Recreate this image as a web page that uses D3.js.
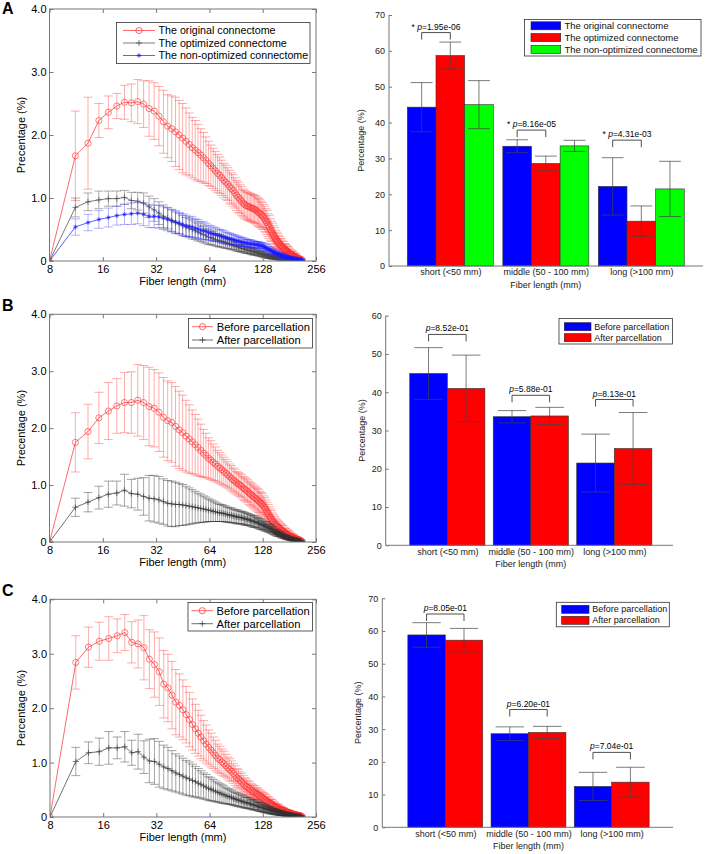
<!DOCTYPE html>
<html>
<head>
<meta charset="utf-8">
<script src="https://cdn.jsdelivr.net/npm/d3@7"></script>
<style>
  body { margin: 0; background: #fff; }
  svg { display: block; }
</style>
</head>
<body>
<svg width="708" height="854"></svg>
<script>
// ---- data: line charts (fiber length bins, mm) ----
const fiberLengths = [8,
  11.2, 13.2, 15.2, 17.2, 19.2, 21.2, 23.2, 25.2, 27.2, 29.2,
  31.2, 33.2, 35.2, 37.2, 39.2, 41.2, 43.2, 45.2, 47.2, 49.2,
  51.2, 53.2, 55.2, 57.2, 59.2, 61.2, 63.2, 65.2, 67.2, 69.2,
  71.2, 73.2, 75.2, 77.2, 79.2, 81.2, 83.2, 85.2, 87.2, 89.2,
  91.2, 93.2, 95.2, 97.2, 99.2, 101.2, 103.2, 105.2, 107.2, 109.2,
  111.2, 113.2, 115.2, 117.2, 119.2, 121.2, 123.2, 125.2, 127.2, 129.2,
  131.2, 133.2, 135.2, 137.2, 139.2, 141.2, 143.2, 145.2, 147.2, 149.2,
  151.2, 153.2, 155.2, 157.2, 159.2, 161.2, 163.2, 165.2, 167.2, 169.2,
  171.2, 173.2, 175.2, 177.2, 179.2, 181.2, 183.2, 185.2, 187.2, 189.2,
  191.2, 193.2, 195.2, 197.2, 199.2, 201.2, 203.2, 205.2, 207.2, 209.2,
  211.2];

// panel A
const origMeanA = [0,
  1.67, 1.87, 2.23, 2.36, 2.46, 2.52, 2.51, 2.53, 2.49, 2.42,
  2.38, 2.30, 2.21, 2.14, 2.10, 2.05, 2.00, 1.95, 1.90, 1.85,
  1.80, 1.76, 1.72, 1.68, 1.64, 1.60, 1.55, 1.51, 1.47, 1.43,
  1.39, 1.36, 1.32, 1.28, 1.25, 1.22, 1.18, 1.15, 1.12, 1.08,
  1.04, 1.01, 0.98, 0.95, 0.92, 0.90, 0.88, 0.87, 0.86, 0.85,
  0.84, 0.83, 0.82, 0.81, 0.79, 0.77, 0.76, 0.74, 0.72, 0.70,
  0.67, 0.64, 0.61, 0.57, 0.54, 0.50, 0.47, 0.44, 0.41, 0.38,
  0.35, 0.33, 0.31, 0.29, 0.27, 0.25, 0.24, 0.22, 0.21, 0.19,
  0.18, 0.17, 0.16, 0.15, 0.13, 0.12, 0.11, 0.10, 0.10, 0.09,
  0.08, 0.07, 0.07, 0.06, 0.05, 0.04, 0.04, 0.03, 0.03, 0.02,
  0.02];
const origSdA = [0,
  0.71, 0.73, 0.27, 0.26, 0.20, 0.27, 0.30, 0.35, 0.37, 0.44,
  0.45, 0.47, 0.50, 0.50, 0.52, 0.55, 0.55, 0.55, 0.53, 0.50,
  0.48, 0.47, 0.45, 0.42, 0.40, 0.37, 0.35, 0.33, 0.32, 0.31,
  0.30, 0.29, 0.28, 0.27, 0.27, 0.26, 0.26, 0.25, 0.25, 0.24,
  0.24, 0.24, 0.23, 0.23, 0.22, 0.22, 0.22, 0.22, 0.22, 0.22,
  0.22, 0.22, 0.22, 0.22, 0.22, 0.22, 0.22, 0.21, 0.21, 0.20,
  0.20, 0.19, 0.19, 0.18, 0.18, 0.17, 0.16, 0.16, 0.15, 0.15,
  0.14, 0.13, 0.13, 0.12, 0.12, 0.11, 0.11, 0.10, 0.10, 0.09,
  0.09, 0.09, 0.08, 0.08, 0.08, 0.07, 0.07, 0.06, 0.06, 0.06,
  0.05, 0.05, 0.05, 0.04, 0.04, 0.04, 0.03, 0.03, 0.03, 0.03,
  0.02];
const optMeanA = [0,
  0.85, 0.94, 0.97, 0.99, 0.99, 1.01, 0.96, 0.95, 0.92, 0.86,
  0.81, 0.76, 0.71, 0.68, 0.64, 0.61, 0.59, 0.56, 0.54, 0.52,
  0.50, 0.48, 0.46, 0.44, 0.42, 0.40, 0.38, 0.37, 0.36, 0.34,
  0.33, 0.32, 0.31, 0.30, 0.29, 0.28, 0.27, 0.26, 0.25, 0.24,
  0.23, 0.22, 0.21, 0.20, 0.20, 0.19, 0.18, 0.17, 0.17, 0.16,
  0.15, 0.15, 0.14, 0.14, 0.13, 0.12, 0.12, 0.11, 0.11, 0.10,
  0.09, 0.09, 0.08, 0.08, 0.07, 0.07, 0.07, 0.06, 0.06, 0.06,
  0.05, 0.05, 0.05, 0.04, 0.04, 0.04, 0.04, 0.03, 0.03, 0.03,
  0.03, 0.03, 0.02, 0.02, 0.02, 0.02, 0.02, 0.02, 0.02, 0.02,
  0.02, 0.01, 0.01, 0.01, 0.01, 0.01, 0.01, 0.01, 0.01, 0.01,
  0.01];
const optSdA = [0,
  0.15, 0.14, 0.14, 0.12, 0.12, 0.11, 0.13, 0.14, 0.16, 0.17,
  0.18, 0.18, 0.18, 0.17, 0.17, 0.17, 0.16, 0.16, 0.15, 0.15,
  0.15, 0.14, 0.14, 0.13, 0.13, 0.12, 0.12, 0.11, 0.11, 0.10,
  0.10, 0.10, 0.09, 0.09, 0.09, 0.08, 0.08, 0.08, 0.07, 0.07,
  0.07, 0.07, 0.06, 0.06, 0.06, 0.06, 0.06, 0.05, 0.05, 0.05,
  0.05, 0.05, 0.05, 0.04, 0.04, 0.04, 0.04, 0.04, 0.04, 0.04,
  0.04, 0.03, 0.03, 0.03, 0.03, 0.03, 0.03, 0.03, 0.03, 0.02,
  0.02, 0.02, 0.02, 0.02, 0.02, 0.02, 0.02, 0.02, 0.02, 0.02,
  0.02, 0.02, 0.02, 0.02, 0.02, 0.01, 0.01, 0.01, 0.01, 0.01,
  0.01, 0.01, 0.01, 0.01, 0.01, 0.01, 0.01, 0.01, 0.01, 0.01,
  0.01];
const nonOptMeanA = [0,
  0.54, 0.61, 0.66, 0.69, 0.72, 0.74, 0.75, 0.76, 0.74, 0.71,
  0.71, 0.70, 0.68, 0.66, 0.64, 0.62, 0.60, 0.58, 0.56, 0.55,
  0.54, 0.52, 0.51, 0.49, 0.48, 0.47, 0.45, 0.44, 0.43, 0.42,
  0.41, 0.40, 0.39, 0.38, 0.37, 0.36, 0.35, 0.35, 0.34, 0.33,
  0.32, 0.32, 0.31, 0.30, 0.30, 0.29, 0.29, 0.28, 0.28, 0.27,
  0.27, 0.27, 0.26, 0.26, 0.26, 0.25, 0.25, 0.24, 0.24, 0.23,
  0.22, 0.21, 0.20, 0.19, 0.18, 0.17, 0.16, 0.15, 0.14, 0.13,
  0.13, 0.12, 0.11, 0.11, 0.10, 0.09, 0.09, 0.08, 0.08, 0.07,
  0.07, 0.06, 0.06, 0.06, 0.05, 0.05, 0.05, 0.04, 0.04, 0.04,
  0.04, 0.03, 0.03, 0.03, 0.03, 0.02, 0.02, 0.02, 0.02, 0.02,
  0.02];
const nonOptSdA = [0,
  0.13, 0.13, 0.14, 0.15, 0.15, 0.16, 0.17, 0.17, 0.18, 0.18,
  0.18, 0.18, 0.18, 0.18, 0.18, 0.18, 0.17, 0.17, 0.17, 0.16,
  0.16, 0.15, 0.15, 0.14, 0.14, 0.13, 0.12, 0.12, 0.11, 0.11,
  0.10, 0.10, 0.10, 0.10, 0.09, 0.09, 0.09, 0.08, 0.08, 0.08,
  0.08, 0.07, 0.07, 0.07, 0.07, 0.06, 0.06, 0.06, 0.06, 0.06,
  0.06, 0.05, 0.05, 0.05, 0.05, 0.05, 0.05, 0.05, 0.05, 0.05,
  0.05, 0.05, 0.04, 0.04, 0.04, 0.04, 0.04, 0.04, 0.04, 0.04,
  0.04, 0.03, 0.03, 0.03, 0.03, 0.03, 0.03, 0.03, 0.03, 0.03,
  0.03, 0.02, 0.02, 0.02, 0.02, 0.02, 0.02, 0.02, 0.02, 0.02,
  0.02, 0.02, 0.01, 0.01, 0.01, 0.01, 0.01, 0.01, 0.01, 0.01,
  0.01];

// panel B
const beforeMeanB = [0,
  1.75, 1.94, 2.18, 2.30, 2.39, 2.45, 2.45, 2.49, 2.45, 2.38,
  2.35, 2.28, 2.19, 2.13, 2.10, 2.03, 1.97, 1.92, 1.86, 1.81,
  1.76, 1.71, 1.66, 1.61, 1.56, 1.52, 1.47, 1.44, 1.40, 1.37,
  1.33, 1.30, 1.27, 1.24, 1.21, 1.18, 1.15, 1.12, 1.09, 1.07,
  1.04, 1.02, 1.00, 0.98, 0.95, 0.93, 0.91, 0.89, 0.86, 0.84,
  0.82, 0.80, 0.78, 0.76, 0.74, 0.72, 0.70, 0.68, 0.66, 0.63,
  0.60, 0.57, 0.53, 0.50, 0.46, 0.43, 0.40, 0.37, 0.35, 0.32,
  0.30, 0.28, 0.27, 0.25, 0.24, 0.22, 0.21, 0.20, 0.19, 0.17,
  0.16, 0.15, 0.14, 0.13, 0.12, 0.11, 0.10, 0.09, 0.09, 0.08,
  0.07, 0.07, 0.06, 0.05, 0.05, 0.04, 0.04, 0.03, 0.03, 0.02,
  0.02];
const beforeSdB = [0,
  0.52, 0.48, 0.45, 0.50, 0.48, 0.53, 0.54, 0.63, 0.65, 0.69,
  0.68, 0.69, 0.70, 0.70, 0.70, 0.70, 0.68, 0.66, 0.63, 0.60,
  0.56, 0.53, 0.50, 0.46, 0.42, 0.39, 0.36, 0.34, 0.32, 0.30,
  0.28, 0.27, 0.26, 0.25, 0.24, 0.23, 0.22, 0.22, 0.21, 0.21,
  0.20, 0.20, 0.20, 0.20, 0.20, 0.20, 0.20, 0.20, 0.20, 0.20,
  0.20, 0.20, 0.20, 0.20, 0.20, 0.20, 0.19, 0.19, 0.19, 0.18,
  0.18, 0.17, 0.17, 0.16, 0.16, 0.15, 0.15, 0.14, 0.13, 0.13,
  0.12, 0.12, 0.11, 0.11, 0.10, 0.10, 0.10, 0.09, 0.09, 0.08,
  0.08, 0.08, 0.07, 0.07, 0.07, 0.06, 0.06, 0.06, 0.05, 0.05,
  0.05, 0.04, 0.04, 0.04, 0.04, 0.03, 0.03, 0.03, 0.02, 0.02,
  0.02];
const afterMeanB = [0,
  0.61, 0.70, 0.78, 0.84, 0.86, 0.91, 0.85, 0.84, 0.80, 0.77,
  0.76, 0.74, 0.71, 0.68, 0.67, 0.66, 0.66, 0.65, 0.64, 0.63,
  0.62, 0.61, 0.60, 0.59, 0.58, 0.57, 0.56, 0.55, 0.54, 0.53,
  0.52, 0.51, 0.51, 0.50, 0.49, 0.48, 0.47, 0.47, 0.46, 0.45,
  0.44, 0.44, 0.43, 0.43, 0.42, 0.41, 0.40, 0.40, 0.39, 0.38,
  0.37, 0.36, 0.36, 0.35, 0.34, 0.33, 0.32, 0.31, 0.30, 0.29,
  0.28, 0.27, 0.26, 0.25, 0.24, 0.23, 0.22, 0.21, 0.19, 0.18,
  0.17, 0.16, 0.15, 0.14, 0.14, 0.13, 0.12, 0.11, 0.10, 0.10,
  0.09, 0.08, 0.08, 0.07, 0.07, 0.06, 0.06, 0.05, 0.05, 0.05,
  0.04, 0.04, 0.04, 0.03, 0.03, 0.03, 0.02, 0.02, 0.02, 0.01,
  0.01];
const afterSdB = [0,
  0.16, 0.17, 0.20, 0.23, 0.21, 0.28, 0.25, 0.28, 0.33, 0.40,
  0.41, 0.41, 0.40, 0.40, 0.40, 0.39, 0.37, 0.36, 0.34, 0.32,
  0.30, 0.28, 0.26, 0.25, 0.23, 0.22, 0.20, 0.19, 0.18, 0.17,
  0.16, 0.15, 0.15, 0.14, 0.14, 0.13, 0.13, 0.13, 0.12, 0.12,
  0.12, 0.12, 0.11, 0.11, 0.11, 0.11, 0.11, 0.10, 0.10, 0.10,
  0.10, 0.10, 0.10, 0.09, 0.09, 0.09, 0.09, 0.09, 0.08, 0.08,
  0.08, 0.08, 0.07, 0.07, 0.07, 0.07, 0.06, 0.06, 0.06, 0.05,
  0.05, 0.05, 0.05, 0.04, 0.04, 0.04, 0.04, 0.04, 0.03, 0.03,
  0.03, 0.03, 0.03, 0.03, 0.02, 0.02, 0.02, 0.02, 0.02, 0.02,
  0.02, 0.02, 0.01, 0.01, 0.01, 0.01, 0.01, 0.01, 0.01, 0.01,
  0.01];

// panel C
const beforeMeanC = [0,
  2.84, 3.12, 3.23, 3.28, 3.33, 3.39, 3.21, 3.18, 3.11, 2.90,
  2.80, 2.67, 2.44, 2.37, 2.24, 2.11, 2.05, 1.97, 1.88, 1.79,
  1.70, 1.62, 1.54, 1.47, 1.40, 1.34, 1.28, 1.23, 1.18, 1.13,
  1.08, 1.05, 1.01, 0.98, 0.94, 0.90, 0.87, 0.84, 0.80, 0.76,
  0.72, 0.70, 0.67, 0.64, 0.61, 0.58, 0.56, 0.54, 0.52, 0.50,
  0.48, 0.46, 0.45, 0.43, 0.42, 0.40, 0.38, 0.37, 0.35, 0.34,
  0.32, 0.31, 0.29, 0.28, 0.26, 0.25, 0.24, 0.23, 0.21, 0.20,
  0.19, 0.18, 0.17, 0.16, 0.15, 0.14, 0.13, 0.13, 0.12, 0.11,
  0.10, 0.10, 0.09, 0.09, 0.08, 0.07, 0.07, 0.07, 0.06, 0.06,
  0.05, 0.05, 0.04, 0.04, 0.04, 0.03, 0.03, 0.03, 0.02, 0.02,
  0.02];
const beforeSdC = [0,
  0.49, 0.37, 0.35, 0.40, 0.31, 0.33, 0.38, 0.44, 0.59, 0.54,
  0.60, 0.62, 0.62, 0.62, 0.62, 0.60, 0.58, 0.55, 0.52, 0.50,
  0.47, 0.45, 0.42, 0.40, 0.37, 0.35, 0.32, 0.31, 0.29, 0.28,
  0.26, 0.25, 0.24, 0.23, 0.21, 0.20, 0.20, 0.19, 0.18, 0.18,
  0.17, 0.17, 0.16, 0.16, 0.15, 0.14, 0.14, 0.13, 0.13, 0.12,
  0.12, 0.12, 0.12, 0.11, 0.11, 0.11, 0.11, 0.10, 0.10, 0.10,
  0.10, 0.10, 0.09, 0.09, 0.09, 0.08, 0.08, 0.08, 0.07, 0.07,
  0.06, 0.06, 0.06, 0.06, 0.05, 0.05, 0.05, 0.05, 0.05, 0.04,
  0.04, 0.04, 0.04, 0.04, 0.04, 0.03, 0.03, 0.03, 0.03, 0.03,
  0.03, 0.03, 0.03, 0.02, 0.02, 0.02, 0.02, 0.02, 0.02, 0.02,
  0.02];
const afterMeanC = [0,
  1.02, 1.18, 1.20, 1.27, 1.27, 1.29, 1.18, 1.20, 1.10, 1.03,
  1.02, 0.97, 0.92, 0.89, 0.85, 0.81, 0.78, 0.75, 0.72, 0.70,
  0.67, 0.65, 0.62, 0.60, 0.57, 0.55, 0.52, 0.51, 0.49, 0.47,
  0.45, 0.44, 0.42, 0.41, 0.39, 0.38, 0.37, 0.36, 0.34, 0.33,
  0.32, 0.31, 0.30, 0.29, 0.28, 0.27, 0.26, 0.26, 0.25, 0.24,
  0.23, 0.22, 0.22, 0.21, 0.20, 0.19, 0.18, 0.18, 0.17, 0.16,
  0.15, 0.15, 0.14, 0.13, 0.13, 0.12, 0.11, 0.11, 0.10, 0.10,
  0.09, 0.09, 0.08, 0.08, 0.07, 0.07, 0.07, 0.06, 0.06, 0.06,
  0.05, 0.05, 0.05, 0.04, 0.04, 0.04, 0.04, 0.03, 0.03, 0.03,
  0.03, 0.03, 0.02, 0.02, 0.02, 0.02, 0.02, 0.02, 0.01, 0.01,
  0.01];
const afterSdC = [0,
  0.26, 0.20, 0.25, 0.30, 0.20, 0.28, 0.23, 0.32, 0.30, 0.40,
  0.42, 0.42, 0.40, 0.39, 0.37, 0.35, 0.34, 0.33, 0.32, 0.31,
  0.30, 0.28, 0.27, 0.25, 0.24, 0.23, 0.22, 0.21, 0.20, 0.19,
  0.18, 0.17, 0.17, 0.16, 0.15, 0.14, 0.14, 0.13, 0.13, 0.12,
  0.12, 0.12, 0.11, 0.11, 0.11, 0.10, 0.10, 0.10, 0.10, 0.09,
  0.09, 0.09, 0.09, 0.08, 0.08, 0.08, 0.08, 0.08, 0.07, 0.07,
  0.07, 0.07, 0.06, 0.06, 0.06, 0.06, 0.06, 0.05, 0.05, 0.05,
  0.05, 0.05, 0.04, 0.04, 0.04, 0.04, 0.04, 0.03, 0.03, 0.03,
  0.03, 0.03, 0.03, 0.02, 0.02, 0.02, 0.02, 0.02, 0.02, 0.02,
  0.02, 0.01, 0.01, 0.01, 0.01, 0.01, 0.01, 0.01, 0.01, 0.01,
  0.01];

const lineXTicks = [8, 16, 32, 64, 128, 256];
const lineYTicks = [0, 1, 2, 3, 4];

// ---- data: bar charts (percentage of fibers per length class) ----
const barCategories = ["short (<50 mm)", "middle (50 - 100 mm)", "long (>100 mm)"];

const origBarA = [44.3, 33.4, 22.2];
const origBarErrA = [6.85, 1.8, 8.0];
const optBarA = [58.7, 28.6, 12.5];
const optBarErrA = [3.75, 2.05, 4.25];
const nonOptBarA = [45.0, 33.5, 21.5];
const nonOptBarErrA = [6.7, 1.55, 7.7];
const pValuesA = ["1.95e-06", "8.16e-05", "4.31e-03"];
const bracketA = [65.1, 37.9, 35.1];

const beforeBarB = [44.9, 33.6, 21.5];
const beforeBarErrB = [6.75, 1.6, 7.55];
const afterBarB = [41.0, 33.8, 25.3];
const afterBarErrB = [8.7, 2.25, 9.4];
const pValuesB = ["8.52e-01", "5.88e-01", "8.13e-01"];
const bracketB = [55.1, 39.2, 38.1];

const beforeBarC = [58.8, 28.6, 12.5];
const beforeBarErrC = [3.75, 2.1, 4.3];
const afterBarC = [57.2, 29.0, 13.8];
const afterBarErrC = [3.6, 1.85, 4.55];
const pValuesC = ["8.05e-01", "6.20e-01", "7.04e-01"];
const bracketC = [65.2, 36.0, 22.9];

const barYTicks70 = [0, 10, 20, 30, 40, 50, 60, 70];
const barYTicks60 = [0, 10, 20, 30, 40, 50, 60];

// ---- drawing ----
const svg = d3.select("svg");
const FONT = '"Liberation Sans", Arial, Helvetica, sans-serif';

function markerPath(type) {
  if (type === "plus") return "M-3,0H3M0,-3V3";
  if (type === "star") return "M-2.2,0H2.2M0,-2.2V2.2M-1.6,-1.6L1.6,1.6M-1.6,1.6L1.6,-1.6";
  return d3.symbol(d3.symbolCircle, 30)();
}

function styleAxis(a, size) {
  a.attr("font-family", FONT);
  a.select(".domain").remove();
  a.selectAll("line").attr("stroke", "#777");
  a.selectAll("text").attr("font-size", size).attr("fill", "#000");
}

function drawLineChart(c) {
  const g = svg.append("g").attr("font-family", FONT);
  const x = d3.scaleLog().base(2).domain([8, 256]).range([c.left, c.right]);
  const y = d3.scaleLinear().domain([0, 4]).range([c.bottom, c.top]);

  g.append("clipPath").attr("id", "clip" + c.name)
    .append("rect")
    .attr("x", c.left).attr("y", c.top)
    .attr("width", c.right - c.left).attr("height", c.bottom - c.top);

  const plot = g.append("g").attr("clip-path", `url(#clip${c.name})`);

  c.series.forEach(s => {
    const pts = fiberLengths.map((len, i) => ({ len, m: s.mean[i], e: s.sd[i] }));
    const cap = 4.5;

    plot.append("g")
      .attr("stroke", s.errColor).attr("stroke-width", 0.6).attr("fill", "none")
      .selectAll("path")
      .data(pts.filter(p => p.e > 0))
      .join("path")
      .attr("d", p => {
        const px = x(p.len), y1 = y(p.m - p.e), y2 = y(p.m + p.e);
        return `M${px},${y1}V${y2}M${px - cap},${y1}H${px + cap}M${px - cap},${y2}H${px + cap}`;
      });

    plot.append("path")
      .datum(pts)
      .attr("fill", "none")
      .attr("stroke", s.color)
      .attr("stroke-width", 0.7)
      .attr("d", d3.line().x(p => x(p.len)).y(p => y(p.m)));

    plot.append("g")
      .selectAll("path")
      .data(pts)
      .join("path")
      .attr("transform", p => `translate(${x(p.len)},${y(p.m)})`)
      .attr("d", markerPath(s.marker))
      .attr("fill", "none")
      .attr("stroke", s.color)
      .attr("stroke-width", 0.6);
  });

  // box + inward ticks
  g.append("rect")
    .attr("x", c.left).attr("y", c.top)
    .attr("width", c.right - c.left).attr("height", c.bottom - c.top)
    .attr("fill", "none").attr("stroke", "#777");

  const yFmt = d => d === 0 ? "0" : d3.format(".1f")(d);
  g.append("g").attr("transform", `translate(${c.left},0)`)
    .call(d3.axisLeft(y).tickValues(lineYTicks).tickFormat(yFmt).tickSizeInner(-4).tickSizeOuter(0).tickPadding(3))
    .call(a => styleAxis(a, 11));
  g.append("g").attr("transform", `translate(${c.right},0)`)
    .call(d3.axisRight(y).tickValues(lineYTicks).tickFormat("").tickSizeInner(-4).tickSizeOuter(0))
    .call(a => styleAxis(a, 11));
  g.append("g").attr("transform", `translate(0,${c.bottom})`)
    .call(d3.axisBottom(x).tickValues(lineXTicks).tickFormat(d3.format("d")).tickSizeInner(-4).tickSizeOuter(0).tickPadding(4))
    .call(a => styleAxis(a, 11));
  g.append("g").attr("transform", `translate(0,${c.top})`)
    .call(d3.axisTop(x).tickValues(lineXTicks).tickFormat("").tickSizeInner(-4).tickSizeOuter(0))
    .call(a => styleAxis(a, 11));

  g.append("text")
    .attr("x", (c.left + c.right) / 2).attr("y", c.bottom + 24)
    .attr("text-anchor", "middle").attr("font-size", 11)
    .text("Fiber length (mm)");
  g.append("text")
    .attr("transform", `translate(${c.left - 25},${(c.top + c.bottom) / 2}) rotate(-90)`)
    .attr("text-anchor", "middle").attr("font-size", 11)
    .text(c.yLabel);

  // legend
  const L = c.legend;
  const lg = g.append("g");
  lg.append("rect")
    .attr("x", L.x).attr("y", L.y).attr("width", L.w).attr("height", L.h)
    .attr("fill", "#fff").attr("stroke", "#333").attr("stroke-width", 0.8);
  c.series.forEach((s, i) => {
    const yy = L.y0 + i * L.dy;
    lg.append("line")
      .attr("x1", L.x1).attr("x2", L.x2).attr("y1", yy).attr("y2", yy)
      .attr("stroke", s.color).attr("stroke-width", 0.7);
    lg.append("path")
      .attr("transform", `translate(${(L.x1 + L.x2) / 2},${yy})`)
      .attr("d", markerPath(s.marker))
      .attr("fill", "none").attr("stroke", s.color).attr("stroke-width", 0.7);
    lg.append("text")
      .attr("x", L.tx).attr("y", yy).attr("dy", "0.35em")
      .attr("font-size", L.size)
      .text(s.name);
  });
}

function drawBarChart(c) {
  const g = svg.append("g").attr("font-family", FONT);
  const x = d3.scaleLinear().domain(c.xDomain).range([c.left, c.right]);
  const y = d3.scaleLinear().domain([0, c.yMax]).range([c.bottom, c.top]);
  const n = c.series.length;
  const bw = c.barWidth;
  const px = w => x(w) - x(0);

  c.series.forEach((s, j) => {
    const off = (j - (n - 1) / 2) * bw;
    const rows = s.values.map((v, i) => ({ cx: i + 1 + off, v, e: s.err[i] }));

    g.append("g").selectAll("rect")
      .data(rows)
      .join("rect")
      .attr("x", d => x(d.cx - bw / 2))
      .attr("width", px(bw))
      .attr("y", d => y(d.v))
      .attr("height", d => y(0) - y(d.v))
      .attr("fill", s.color)
      .attr("stroke", "#333")
      .attr("stroke-width", 0.6);

    const capHalf = px(bw) * 0.38;
    g.append("g")
      .attr("stroke", "#444").attr("stroke-width", 0.7).attr("fill", "none")
      .selectAll("path")
      .data(rows)
      .join("path")
      .attr("d", d => {
        const xx = x(d.cx), y1 = y(d.v - d.e), y2 = y(d.v + d.e);
        return `M${xx},${y1}V${y2}M${xx - capHalf},${y1}H${xx + capHalf}M${xx - capHalf},${y2}H${xx + capHalf}`;
      });
  });

  // significance brackets between first two series
  const off0 = (0 - (n - 1) / 2) * bw, off1 = (1 - (n - 1) / 2) * bw;
  const br = g.append("g");
  c.brackets.forEach((h, i) => {
    const x1 = x(i + 1 + off0), x2 = x(i + 1 + off1), yy = y(h);
    br.append("path")
      .attr("d", `M${x1},${yy + 7}V${yy}H${x2}V${yy + 7}`)
      .attr("fill", "none").attr("stroke", "#222").attr("stroke-width", 0.8);
    const t = br.append("text")
      .attr("x", (x1 + x2) / 2).attr("y", yy - 3)
      .attr("text-anchor", "middle").attr("font-size", 8.5);
    if (c.starred) t.append("tspan").text("* ");
    t.append("tspan").attr("font-style", "italic").text("p");
    t.append("tspan").text("=" + c.pValues[i]);
  });

  // axes
  g.append("g").attr("transform", `translate(${c.left},0)`)
    .call(d3.axisLeft(y).tickValues(c.yTicks).tickSizeInner(-3).tickSizeOuter(0).tickPadding(4))
    .call(a => styleAxis(a, 9))
    .call(a => a.selectAll("text").attr("fill", "#222"));
  g.append("line")
    .attr("x1", c.left).attr("x2", c.left).attr("y1", c.bottom).attr("y2", c.top)
    .attr("stroke", "#777");
  g.append("line")
    .attr("x1", c.left).attr("x2", c.right).attr("y1", c.bottom).attr("y2", c.bottom)
    .attr("stroke", "#777");
  g.append("g").attr("transform", `translate(0,${c.bottom})`)
    .call(d3.axisBottom(x).tickValues([1, 2, 3]).tickFormat(i => barCategories[i - 1]).tickSize(0).tickPadding(3))
    .call(a => styleAxis(a, 9))
    .call(a => a.selectAll("text").attr("fill", "#222"));

  g.append("text")
    .attr("x", x(2)).attr("y", c.bottom + 22)
    .attr("text-anchor", "middle").attr("font-size", 9).attr("fill", "#222")
    .text("Fiber length (mm)");
  g.append("text")
    .attr("transform", `translate(${c.left - c.yLabelGap},${(c.top + c.bottom) / 2}) rotate(-90)`)
    .attr("text-anchor", "middle").attr("font-size", 9).attr("fill", "#222")
    .text("Percentage (%)");

  // legend
  const L = c.legend;
  const lg = g.append("g");
  lg.append("rect")
    .attr("x", L.x).attr("y", L.y).attr("width", L.w).attr("height", L.h)
    .attr("fill", "#fff").attr("stroke", "#333").attr("stroke-width", 0.8);
  c.series.forEach((s, i) => {
    const yy = L.y0 + i * L.dy;
    lg.append("rect")
      .attr("x", L.px).attr("y", yy - 4).attr("width", L.pw).attr("height", 8)
      .attr("fill", s.color).attr("stroke", "#222").attr("stroke-width", 0.6);
    lg.append("text")
      .attr("x", L.tx).attr("y", yy).attr("dy", "0.35em")
      .attr("font-size", L.size).attr("fill", "#111")
      .text(s.name);
  });
}

// panel letters
[["A", 14], ["B", 311], ["C", 596]].forEach(([t, yy]) => {
  svg.append("text").attr("x", 2).attr("y", yy)
    .attr("font-family", FONT).attr("font-weight", "bold").attr("font-size", 16)
    .text(t);
});

const RED = "#ff2a2a", RED_ERR = "rgba(255,40,40,0.65)";

drawLineChart({
  name: "A", left: 49.5, right: 316, top: 9, bottom: 261,
  yLabel: "Precentage (%)",
  series: [
    { name: "The original connectome", mean: origMeanA, sd: origSdA, color: RED, errColor: RED_ERR, marker: "circle" },
    { name: "The optimized connectome", mean: optMeanA, sd: optSdA, color: "#444", errColor: "rgba(60,60,60,0.7)", marker: "plus" },
    { name: "The non-optimized connectome", mean: nonOptMeanA, sd: nonOptSdA, color: "#1a1aff", errColor: "rgba(40,40,255,0.6)", marker: "star" }
  ],
  legend: { x: 116.5, y: 22.5, w: 193.5, h: 41, y0: 30.5, dy: 12.5, x1: 123, x2: 155, tx: 158.5, size: 10.7 }
});

drawLineChart({
  name: "B", left: 49.5, right: 316, top: 314.3, bottom: 542,
  yLabel: "Precentage (%)",
  series: [
    { name: "Before parcellation", mean: beforeMeanB, sd: beforeSdB, color: RED, errColor: RED_ERR, marker: "circle" },
    { name: "After parcellation", mean: afterMeanB, sd: afterSdB, color: "#333", errColor: "rgba(40,40,40,0.7)", marker: "plus" }
  ],
  legend: { x: 188.5, y: 318.5, w: 124, h: 29.5, y0: 326.7, dy: 13.3, x1: 192, x2: 213, tx: 216.7, size: 11.2 }
});

drawLineChart({
  name: "C", left: 50, right: 316, top: 599.3, bottom: 817,
  yLabel: "Percentage (%)",
  series: [
    { name: "Before parcellation", mean: beforeMeanC, sd: beforeSdC, color: RED, errColor: RED_ERR, marker: "circle" },
    { name: "After parcellation", mean: afterMeanC, sd: afterSdC, color: "#333", errColor: "rgba(40,40,40,0.7)", marker: "plus" }
  ],
  legend: { x: 188, y: 602.5, w: 124.5, h: 28.5, y0: 610.7, dy: 13, x1: 191.5, x2: 213, tx: 216.5, size: 11.2 }
});

drawBarChart({
  left: 389, right: 703, top: 15, bottom: 266, yMax: 70, yTicks: barYTicks70,
  xDomain: [0.358, 3.646], barWidth: 0.3, yLabelGap: 25,
  pValues: pValuesA, brackets: bracketA, starred: true,
  series: [
    { name: "The original connectome", values: origBarA, err: origBarErrA, color: "#0000ff" },
    { name: "The optimized connectome", values: optBarA, err: optBarErrA, color: "#ff0000" },
    { name: "The non-optimized connectome", values: nonOptBarA, err: nonOptBarErrA, color: "#00ff00" }
  ],
  legend: { x: 524.5, y: 19.5, w: 176.5, h: 36.5, y0: 25.8, dy: 11.8, px: 531, pw: 29.7, tx: 564.5, size: 9.5 }
});

drawBarChart({
  left: 385.7, right: 673, top: 315.7, bottom: 545.3, yMax: 60, yTicks: barYTicks60,
  xDomain: [0.262, 3.703], barWidth: 0.45, yLabelGap: 21,
  pValues: pValuesB, brackets: bracketB, starred: false,
  series: [
    { name: "Before parcellation", values: beforeBarB, err: beforeBarErrB, color: "#0000ff" },
    { name: "After parcellation", values: afterBarB, err: afterBarErrB, color: "#ff0000" }
  ],
  legend: { x: 559, y: 318.5, w: 113.5, h: 25.5, y0: 326.7, dy: 11, px: 564.3, pw: 26.7, tx: 594.3, size: 9 }
});

drawBarChart({
  left: 382.3, right: 673, top: 598.3, bottom: 827.3, yMax: 70, yTicks: barYTicks70,
  xDomain: [0.243, 3.737], barWidth: 0.45, yLabelGap: 21,
  pValues: pValuesC, brackets: bracketC, starred: false,
  series: [
    { name: "Before parcellation", values: beforeBarC, err: beforeBarErrC, color: "#0000ff" },
    { name: "After parcellation", values: afterBarC, err: afterBarErrC, color: "#ff0000" }
  ],
  legend: { x: 556.3, y: 602.3, w: 113, h: 24.5, y0: 609.3, dy: 11, px: 561.7, pw: 27.3, tx: 592.3, size: 9 }
});
</script>
</body>
</html>
